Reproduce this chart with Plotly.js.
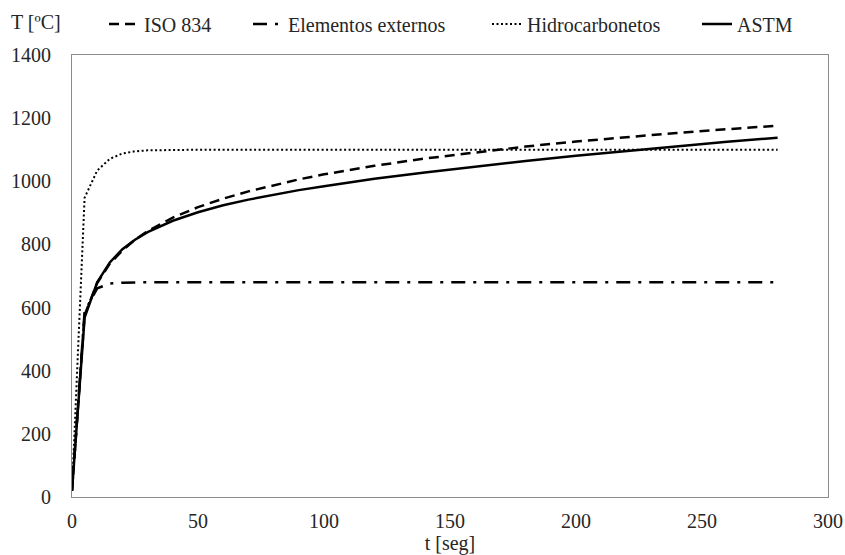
<!DOCTYPE html>
<html>
<head>
<meta charset="utf-8">
<script src="https://cdn.plot.ly/plotly-3.0.1.min.js"></script>
<style>html,body{margin:0;padding:0;background:#fff;}#chart{width:845px;height:555px;}</style>
</head>
<body>
<div id="chart"></div>
<script>
// time [min] sampled every 5 min at start, coarser later
const tISO = [0,5,10,15,20,25,30,40,50,60,70,80,90,100,120,140,160,180,200,220,240,260,280];
const isoValues = [20,576,678,739,781,815,842,885,918,945,968,988,1006,1022,1049,1072,1092,1110,1126,1140,1153,1165,1176];

const tExt = [0,5,10,15,20,25,30,280];
const extValues = [20,588,661,676,679,680,680,680];

const tHC = [0,5,10,15,20,25,30,40,50,280];
const hcValues = [20,948,1034,1071,1088,1095,1098,1100,1100,1100];

const tASTM = [0,5,10,15,20,25,30,40,50,60,70,80,90,100,120,140,160,180,200,220,240,260,280];
const astmValues = [20,568,680,743,785,815,839,875,902,924,942,957,972,984,1008,1028,1047,1064,1081,1096,1111,1125,1138];

const names = ["ISO 834","Elementos externos","Hidrocarbonetos","ASTM"];
const xTicks = [0,50,100,150,200,250,300];
const yTicks = [0,200,400,600,800,1000,1200,1400];

const FONT = "Liberation Serif";
const TXT = "#262626";

const traces = [
  {x:tISO, y:isoValues, name:names[0], mode:"lines", legend:"legend",
   line:{color:"#000", width:2.5, dash:"10px,6px"}},
  {x:tExt, y:extValues, name:names[1], mode:"lines", legend:"legend2",
   line:{color:"#000", width:2.5, dash:"14px,8px,3px,8px"}},
  {x:tHC, y:hcValues, name:names[2], mode:"lines", legend:"legend3",
   line:{color:"#000", width:2, dash:"2px,2.5px"}},
  {x:tASTM, y:astmValues, name:names[3], mode:"lines", legend:"legend4",
   line:{color:"#000", width:2.5}}
];

function leg(px){
  return {orientation:"h", xref:"container", yref:"container",
    x:px/845, y:1-24/555, xanchor:"left", yanchor:"middle",
    bgcolor:"rgba(0,0,0,0)", borderwidth:0, itemwidth:30,
    font:{family:FONT, size:20, color:TXT}};
}

const layout = {
  width:845, height:555,
  margin:{l:72, r:17, t:55, b:58},
  paper_bgcolor:"#fff", plot_bgcolor:"#fff",
  font:{family:FONT, size:20, color:TXT},
  showlegend:true,
  legend:leg(104), legend2:leg(248), legend3:leg(487), legend4:leg(697),
  xaxis:{range:[0,300], tickvals:xTicks, ticktext:xTicks.map(String),
    showgrid:false, zeroline:false, showline:true, mirror:true,
    linecolor:"#8c8c8c", linewidth:1, ticks:"", ticklabelstandoff:6,
    tickfont:{family:FONT, size:20, color:TXT},
    title:{text:"t [seg]", font:{family:FONT, size:20, color:TXT}, standoff:4}},
  yaxis:{range:[0,1400], tickvals:yTicks, ticktext:yTicks.map(String),
    showgrid:false, zeroline:false, showline:true, mirror:true,
    linecolor:"#8c8c8c", linewidth:1, ticks:"", ticklabelstandoff:16,
    tickfont:{family:FONT, size:20, color:TXT}},
  annotations:[{text:"T [ºC]", xref:"paper", yref:"paper", x:0, y:1+33/442,
    xanchor:"right", yanchor:"middle", xshift:-9, showarrow:false,
    font:{family:FONT, size:20, color:TXT}}]
};

Plotly.newPlot("chart", traces, layout, {displayModeBar:false, staticPlot:true});
</script>
</body>
</html>
